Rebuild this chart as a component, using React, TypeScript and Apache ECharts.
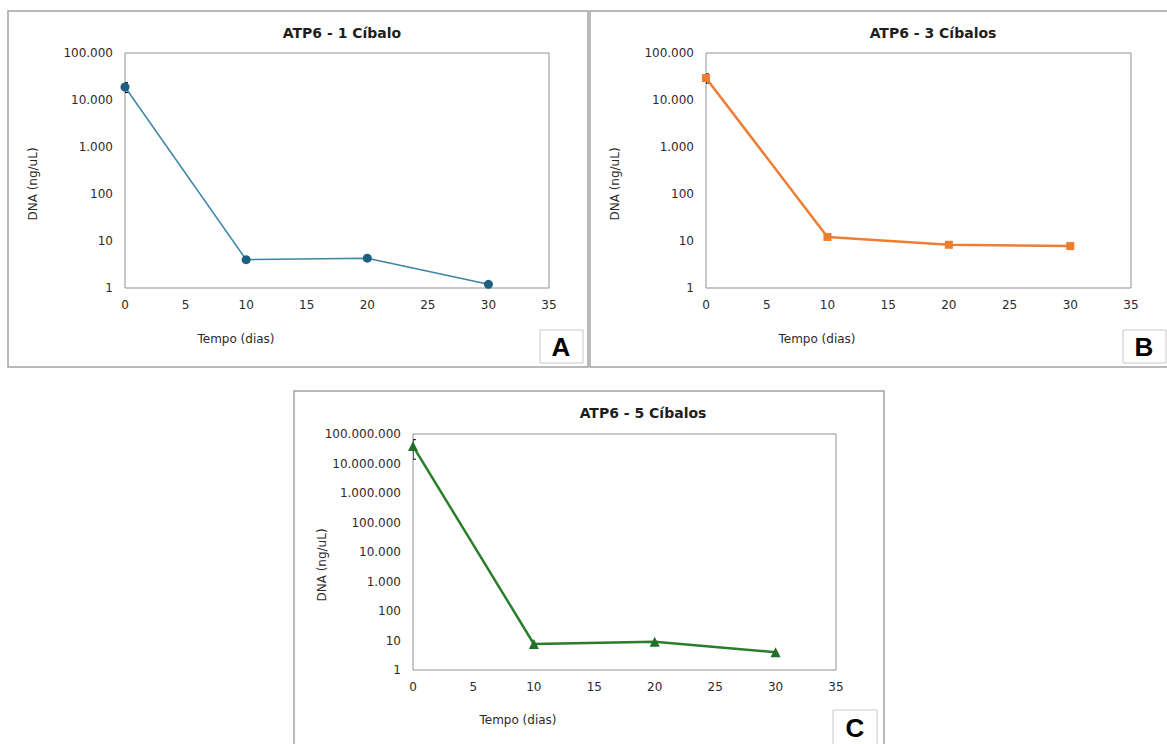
import React, { useEffect, useRef } from "react";
import * as echarts from "echarts";

// ---- data ----
const days = [0, 10, 20, 30];
const dnaA = [18900, 4.0, 4.3, 1.2];
const errA = [4500, 0, 0, 0];
const dnaB = [29400, 12.2, 8.3, 7.8];
const errB = [6500, 0, 0, 0];
const dnaC = [39000000, 7.6, 9.0, 4.0];
const errC = [25000000, 0, 0, 0];
const xTicks = { min: 0, max: 35, interval: 5 };
const titles = ["ATP6 - 1 Cíbalo", "ATP6 - 3 Cíbalos", "ATP6 - 5 Cíbalos"];
const panelLetters = ["A", "B", "C"];
const xName = "Tempo (dias)";
const yName = "DNA (ng/uL)";
const yMax = [100000, 100000, 100000000];

const FONT = "'DejaVu Sans', 'Liberation Sans', Arial, sans-serif";
const LFONT = "'Liberation Sans', Arial, sans-serif";
const TXT = "#2b2b2b";

const fmt = (v: number) =>
  String(Math.round(v)).replace(/\B(?=(\d{3})+(?!\d))/g, ".");

const grids = [
  { left: 125, top: 53, width: 424, height: 235 },
  { left: 706, top: 53, width: 425, height: 235 },
  { left: 413, top: 434, width: 423, height: 236 },
];

function errSeries(idx: number, vals: number[], errs: number[]) {
  const data = days
    .map((d, i) => [d, vals[i] - errs[i], vals[i] + errs[i], errs[i]])
    .filter((r) => r[3] > 0);
  return {
    type: "custom",
    xAxisIndex: idx,
    yAxisIndex: idx,
    clip: true,
    z: 1,
    silent: true,
    encode: { x: 0, y: [1, 2] },
    data,
    renderItem: (params: any, api: any) => {
      const x = api.value(0);
      const lo = api.value(1);
      const hi = api.value(2);
      const p1 = api.coord([x, hi]);
      const p2 = api.coord([x, lo]);
      const w = 3;
      const st = { stroke: "#000", lineWidth: 1 };
      return {
        type: "group",
        children: [
          { type: "line", shape: { x1: p1[0], y1: p1[1], x2: p2[0], y2: p2[1] }, style: st },
          { type: "line", shape: { x1: p1[0] - w, y1: p1[1], x2: p1[0] + w, y2: p1[1] }, style: st },
          { type: "line", shape: { x1: p2[0] - w, y1: p2[1], x2: p2[0] + w, y2: p2[1] }, style: st },
        ],
      };
    },
  };
}

function lineSeries(
  idx: number,
  vals: number[],
  color: string,
  markColor: string,
  symbol: string,
  size: number,
  width: number
) {
  return {
    type: "line",
    xAxisIndex: idx,
    yAxisIndex: idx,
    data: days.map((d, i) => [d, vals[i]]),
    symbol,
    symbolSize: size,
    showAllSymbol: true,
    z: 3,
    clip: false,
    lineStyle: { color, width },
    itemStyle: { color: markColor, borderWidth: 0 },
  };
}

export default function App() {
  const ref = useRef<HTMLDivElement>(null);
  useEffect(() => {
    if (!ref.current) return;
    const chart = echarts.init(ref.current, null, { renderer: "svg" });

    const xAxes = grids.map((_, i) => ({
      type: "value",
      gridIndex: i,
      min: xTicks.min,
      max: xTicks.max,
      interval: xTicks.interval,
      axisLine: { show: false },
      axisTick: { show: false },
      splitLine: { show: false },
      axisLabel: { color: TXT, fontSize: 12, fontFamily: FONT, margin: 11 },
    }));
    const yAxes = grids.map((_, i) => ({
      type: "log",
      logBase: 10,
      gridIndex: i,
      min: 1,
      max: yMax[i],
      axisLine: { show: false },
      axisTick: { show: false },
      splitLine: { show: false },
      minorTick: { show: false },
      axisLabel: {
        color: TXT,
        fontSize: 12,
        fontFamily: FONT,
        margin: 12,
        formatter: (v: number) => fmt(v),
      },
    }));

    const frameStyle = { fill: "#fff", stroke: "#a3a3a3", lineWidth: 1.5 };
    const boxStyle = { fill: "#fff", stroke: "#c8c8c8", lineWidth: 1 };
    const titleStyle = (t: string) => ({
      text: t,
      fill: "#1e1e1e",
      font: `bold 14px ${FONT}`,
      align: "center",
      verticalAlign: "middle",
    });
    const smallText = (t: string) => ({
      text: t,
      fill: TXT,
      font: `12px ${FONT}`,
      align: "center",
      verticalAlign: "middle",
    });
    const letter = (t: string) => ({
      text: t,
      fill: "#000",
      font: `bold 26px ${LFONT}`,
      align: "center",
      verticalAlign: "middle",
    });

    const graphic = [
      { type: "rect", z: -10, shape: { x: 8, y: 11, width: 580, height: 356 }, style: frameStyle },
      { type: "rect", z: -10, shape: { x: 590, y: 11, width: 590, height: 356 }, style: frameStyle },
      { type: "rect", z: -10, shape: { x: 294, y: 391, width: 590, height: 370 }, style: frameStyle },
      { type: "text", x: 342, y: 33, style: titleStyle(titles[0]) },
      { type: "text", x: 933, y: 33, style: titleStyle(titles[1]) },
      { type: "text", x: 643, y: 413, style: titleStyle(titles[2]) },
      { type: "text", x: 236, y: 339, style: smallText(xName) },
      { type: "text", x: 817, y: 339, style: smallText(xName) },
      { type: "text", x: 518, y: 720, style: smallText(xName) },
      { type: "text", x: 33, y: 184, rotation: Math.PI / 2, style: smallText(yName) },
      { type: "text", x: 615, y: 184, rotation: Math.PI / 2, style: smallText(yName) },
      { type: "text", x: 322, y: 565, rotation: Math.PI / 2, style: smallText(yName) },
      { type: "rect", shape: { x: 540, y: 330, width: 43, height: 33 }, style: boxStyle },
      { type: "text", x: 561, y: 347, style: letter(panelLetters[0]) },
      { type: "rect", shape: { x: 1123, y: 330, width: 43, height: 33 }, style: boxStyle },
      { type: "text", x: 1144, y: 347, style: letter(panelLetters[1]) },
      { type: "rect", shape: { x: 833, y: 710, width: 44, height: 40 }, style: boxStyle },
      { type: "text", x: 855, y: 728, style: letter(panelLetters[2]) },
    ];

    chart.setOption({
      animation: false,
      backgroundColor: "#fff",
      grid: grids.map((g) => ({
        ...g,
        show: true,
        borderColor: "#8f8f8f",
        borderWidth: 1,
        backgroundColor: "transparent",
        containLabel: false,
      })),
      xAxis: xAxes,
      yAxis: yAxes,
      graphic,
      series: [
        errSeries(0, dnaA, errA),
        errSeries(1, dnaB, errB),
        errSeries(2, dnaC, errC),
        lineSeries(0, dnaA, "#3b84a8", "#1c5f80", "circle", 9, 1.5),
        lineSeries(1, dnaB, "#ed7d31", "#ed7d31", "rect", 8, 2.5),
        lineSeries(2, dnaC, "#2a7d2a", "#22702a", "triangle", 10, 2.5),
      ],
    });
    return () => chart.dispose();
  }, []);
  return (
    <div
      ref={ref}
      style={{ position: "absolute", left: 0, top: 0, width: 1167, height: 744 }}
    />
  );
}
